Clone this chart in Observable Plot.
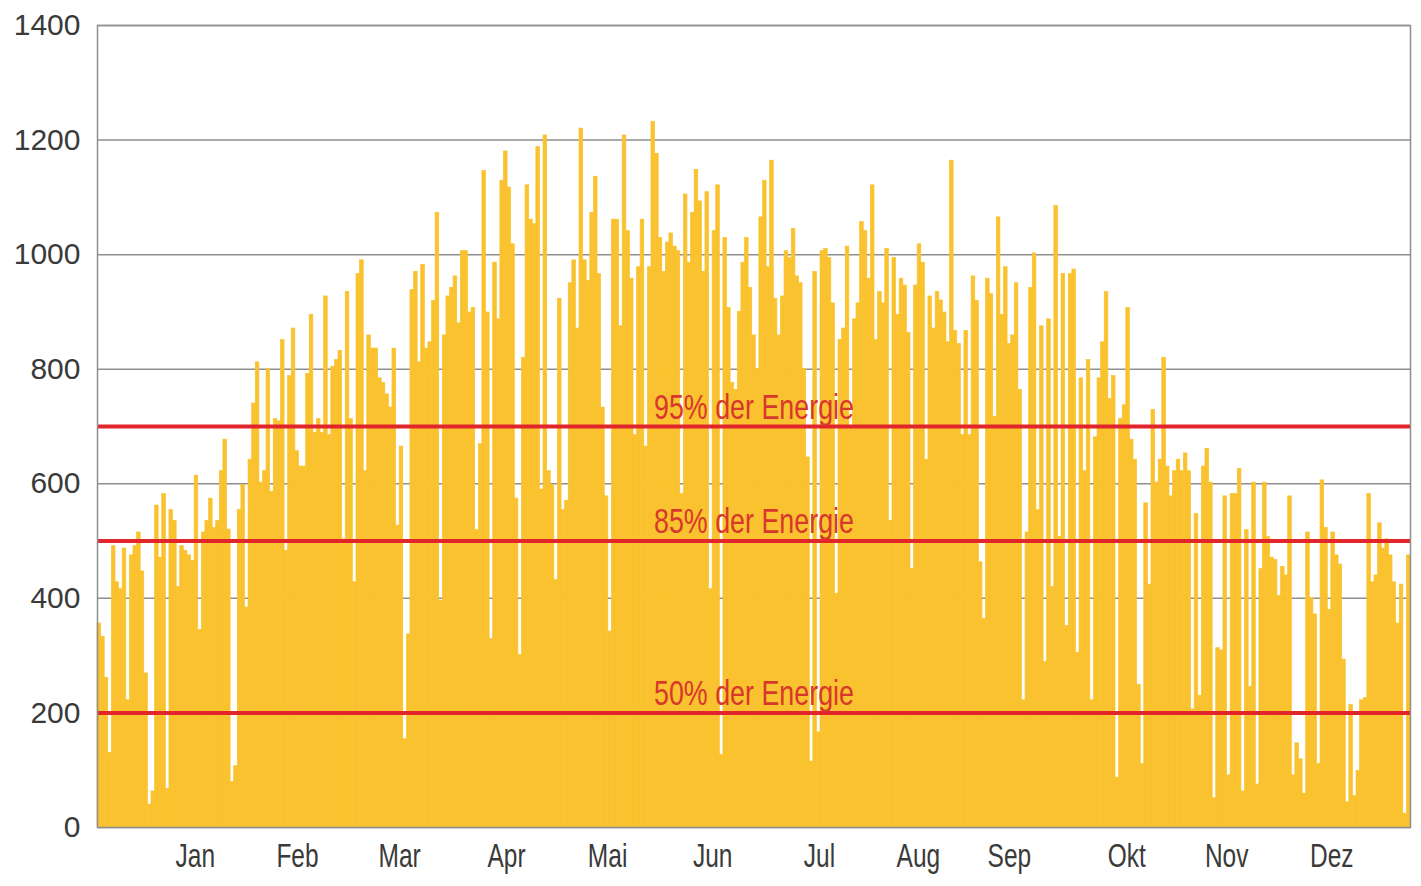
<!DOCTYPE html>
<html>
<head>
<meta charset="utf-8">
<script src="https://cdn.jsdelivr.net/npm/d3@7"></script>
<script src="https://cdn.jsdelivr.net/npm/@observablehq/plot@0.6"></script>
<style>
  body { margin: 0; background: #ffffff; }
  #chart svg { display: block; }
</style>
</head>
<body>
<div id="chart"></div>
<script>
// Daily values, split into blocks of days
const jan = [356,333,261,130,491,428,416,487,222,475,491,515,447,269,40,63,562,471,582,67,554,535,420,491,483,475,465,614,345,515,535];
const feb = [574,523,535,622,677,520,79,107,554,598,384,642,740,812,602,622,800,586,713,709,851,483,788,871,657,630,630,792];
const mar = [895,689,713,689,927,685,804,816,832,503,935,713,428,966,990,622,859,836,836,784,776,756,733,836,527,665,154,337,938,970,812];
const apr = [982,836,847,919,1073,396,859,927,942,962,880,1006,1006,899,907,519,669,1146,899,329,986,887,1129,1180,1117,1018,574,301,820,1121];
const may = [1061,1053,1188,590,1208,622,598,432,923,554,570,950,990,871,1220,990,954,1073,1136,966,733,578,342,1061,1061,875,1208,1041,958,685,978];
const jun = [1061,665,978,1232,1176,1029,970,1021,1037,1014,1006,582,1105,986,1073,1148,1093,970,1109,416,1041,1121,127,1029,907,776,764,900,986,1029];
const jul = [942,859,800,1065,1129,978,1164,923,859,927,1006,994,1045,962,950,800,646,115,970,166,1006,1010,994,915,408,851,871,1014,700,887,915];
const aug = [1057,1041,958,1121,851,935,915,1010,535,994,895,958,946,863,451,946,1018,986,642,927,871,935,920,899,847,1164,867,844,685,867,685];
const sep = [962,919,463,364,958,931,717,1065,895,978,844,859,950,764,222,515,942,1002,554,875,289,887,420,1085,507,966,352,966,974,305];
const oct = [784,622,816,222,681,784,847,935,748,788,87,713,737,907,677,642,249,111,566,424,729,602,642,820,630,578,622,642,622,653,622];
const nov = [206,547,230,630,661,602,51,313,309,578,91,582,582,626,63,519,245,602,75,451,602,507,471,467,404,455,440,578,91,147];
const dec = [119,59,515,400,372,111,606,523,380,515,475,459,293,44,214,55,99,222,226,582,428,440,531,487,503,475,428,356,424,24,475];

// Axis labels
const monthLabels = ["Jan","Feb","Mar","Apr","Mai","Jun","Jul","Aug","Sep","Okt","Nov","Dez"];
const monthTickDays = [27.2,55.6,84.0,113.7,141.8,171.0,200.7,228.2,253.5,286.1,313.9,343.1];
const yTicks = [0,200,400,600,800,1000,1200,1400];

// Threshold lines
const thresholdValues = [200,500,700];
const thresholdLabels = ["50% der Energie","85% der Energie","95% der Energie"];

const values = [...jan,...feb,...mar,...apr,...may,...jun,...jul,...aug,...sep,...oct,...nov,...dec];
const data = values.map((v, i) => ({day: i, value: v}));
const nDays = values.length;
const thresholds = thresholdValues.map((v, i) => ({value: v, label: thresholdLabels[i]}));
const barColor = "#f9c22e";

const chart = Plot.plot({
  width: 1421,
  height: 886,
  marginLeft: 97,
  marginRight: 11,
  marginTop: 25,
  marginBottom: 59,
  style: {fontFamily: "'Liberation Sans', Arial, sans-serif", background: "#ffffff", color: "#3a3a3a"},
  x: {domain: [0, nDays], label: null},
  y: {domain: [0, 1400], label: null},
  marks: [
    Plot.gridY(yTicks, {stroke: "#8f8f8f", strokeOpacity: 1, strokeWidth: 1.5}),
    Plot.rectY(data, {x1: "day", x2: d => d.day + 1, y: "value", fill: barColor,
      stroke: barColor, strokeWidth: 0.7, inset: 0}),
    Plot.ruleY(thresholds, {y: "value", stroke: "#e1262b", strokeWidth: 4}),
    Plot.text(thresholds, {x: () => nDays / 2, y: "value", text: "label", lineAnchor: "bottom", dy: -8,
      fill: "#d8382c", fontSize: 35}),
    Plot.axisY(yTicks, {tickSize: 0, tickPadding: 17, fontSize: 30, fill: "#3a3a3a",
      tickFormat: d => String(d), label: null}),
    Plot.axisX(monthTickDays, {tickSize: 0, tickPadding: 15, fontSize: 34, fill: "#3a3a3a",
      tickFormat: d => monthLabels[monthTickDays.indexOf(d)], label: null}),
    Plot.frame({stroke: "#8f8f8f", strokeWidth: 1.5})
  ]
});

document.getElementById("chart").append(chart);

// Condensed look for month labels and annotation texts
function condense(selector, f) {
  chart.querySelectorAll(selector).forEach(t => {
    const w = t.getComputedTextLength();
    t.setAttribute("textLength", f(w).toFixed(1));
    t.setAttribute("lengthAdjust", "spacingAndGlyphs");
  });
}
condense('g[aria-label="x-axis tick label"] text', w => w * 0.72);
condense('g[aria-label="text"] text', w => 200);
</script>
</body>
</html>
